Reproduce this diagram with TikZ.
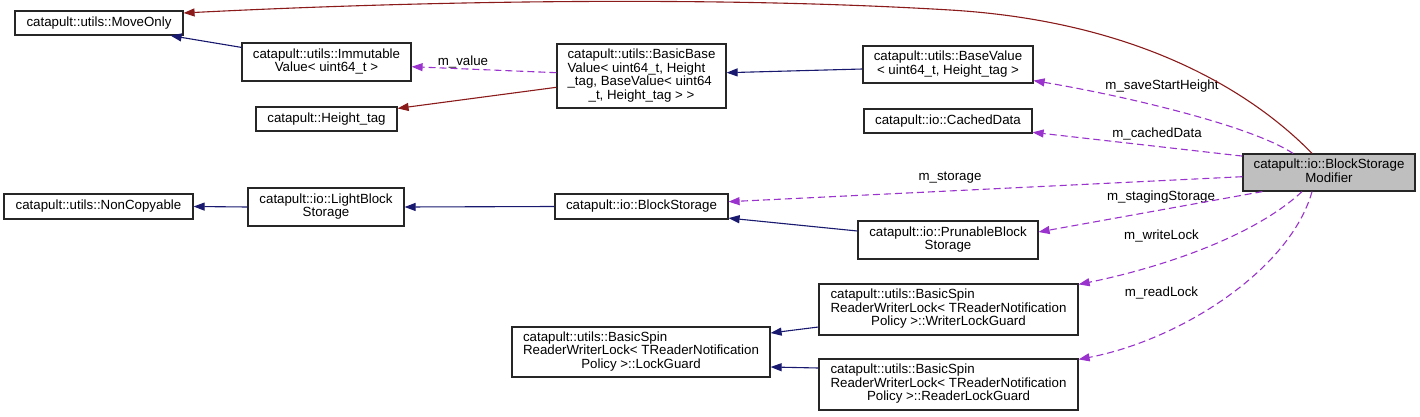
\documentclass[tikz,border=0pt]{standalone}
\usepackage{fontspec}
\setmainfont{Liberation Sans}
\usepackage{tikz}
\usetikzlibrary{arrows.meta}
\definecolor{inhblue}{HTML}{191970}
\definecolor{tmplred}{HTML}{8B1A1A}
\definecolor{usepurple}{HTML}{9A32CD}
\newcommand{\lines}[1]{\begin{tabular}{@{}l@{}}#1\end{tabular}}
\newcommand{\lastline}[1]{\multicolumn{1}{@{}c@{}}{#1}}
\tikzset{
  cls/.style={draw=black!85, line width=1.2pt, inner sep=0pt, minimum height=25pt,
    font=\fontsize{13.3}{13.3}\selectfont},
  lbl/.style={inner sep=0.5pt, font=\fontsize{13.3}{13.3}\selectfont},
  inh/.style={draw=inhblue, line width=1.1pt, -{Triangle[length=11pt,width=8pt]}},
  tmpl/.style={draw=tmplred, line width=1.1pt, -{Triangle[length=11pt,width=8pt]}},
  uses/.style={draw=usepurple, line width=1.1pt, dash pattern=on 7pt off 4pt,
    -{Triangle[length=11pt,width=8pt]}}
}
\begin{document}
\begin{tikzpicture}[x=1pt,y=-1pt]
  \useasboundingbox (0,0) rectangle (1420,417);
  % classes
  \node[cls, fill=black!25, minimum width=172pt, minimum height=37pt] (mod) at (1329,172.5)
    {\lines{catapult::io::BlockStorage\\\lastline{Modifier}}};
  \node[cls, minimum width=168pt, minimum height=24pt] (moveonly) at (99,23) {catapult::utils::MoveOnly};
  \node[cls, minimum width=169pt, minimum height=38pt] (immut) at (326.5,62)
    {\lines{catapult::utils::Immutable\\\lastline{Value< uint64\_t >}}};
  \node[cls, minimum width=141pt, minimum height=24pt] (heighttag) at (326.5,119) {catapult::Height\_tag};
  \node[cls, minimum width=169pt, minimum height=64pt] (basicbase) at (641.5,76)
    {\lines{catapult::utils::BasicBase\\Value< uint64\_t, Height\\\_tag, BaseValue< uint64\\\lastline{\_t, Height\_tag > >}}};
  \node[cls, minimum width=170pt, minimum height=37pt] (basevalue) at (948,64.5)
    {\lines{catapult::utils::BaseValue\\\lastline{< uint64\_t, Height\_tag >}}};
  \node[cls, minimum width=168pt, minimum height=24pt] (cached) at (948,121) {catapult::io::CachedData};
  \node[cls, minimum width=189pt] (noncopy) at (98.5,206.5) {catapult::utils::NonCopyable};
  \node[cls, minimum width=156pt, minimum height=38pt] (lightblock) at (326,207)
    {\lines{catapult::io::LightBlock\\\lastline{Storage}}};
  \node[cls, minimum width=173pt] (blockstorage) at (641.5,206.5) {catapult::io::BlockStorage};
  \node[cls, minimum width=180pt, minimum height=38pt] (prunable) at (948,240)
    {\lines{catapult::io::PrunableBlock\\\lastline{Storage}}};
  \node[cls, minimum width=258pt, minimum height=50pt] (lockguard) at (641,352)
    {\lines{catapult::utils::BasicSpin\\ReaderWriterLock< TReaderNotification\\\lastline{Policy >::LockGuard}}};
  \node[cls, minimum width=259pt, minimum height=51pt] (writer) at (948.5,309.5)
    {\lines{catapult::utils::BasicSpin\\ReaderWriterLock< TReaderNotification\\\lastline{Policy >::WriterLockGuard}}};
  \node[cls, minimum width=259pt, minimum height=51pt] (reader) at (948.5,384.5)
    {\lines{catapult::utils::BasicSpin\\ReaderWriterLock< TReaderNotification\\\lastline{Policy >::ReaderLockGuard}}};
  % edge labels
  \node[lbl] (lvalue) at (463,62) {m\_value};
  \node[lbl] (lsave) at (1162,86) {m\_saveStartHeight};
  \node[lbl] (lcached) at (1157,134) {m\_cachedData};
  \node[lbl] (lstorage) at (950,178) {m\_storage};
  \node[lbl] (lstaging) at (1161,197.5) {m\_stagingStorage};
  \node[lbl] (lwrite) at (1161.5,236.5) {m\_writeLock};
  \node[lbl] (lread) at (1161.5,293.5) {m\_readLock};
  % inheritance
  \draw[tmpl] ([xshift=-17pt]mod.north) .. controls (1260,100) and (1150,22) .. (950,10)
    .. controls (700,-5) and (400,2) .. ([yshift=10pt]moveonly.east);
  \draw[inh] ([yshift=-5pt]immut.north west) -- ([xshift=-13pt]moveonly.south east);
  \draw[tmpl] ([yshift=-11.3pt]basicbase.west) -- ([yshift=-2pt]heighttag.north east);
  \draw[inh] ([yshift=-4.5pt]basevalue.west) -- ([yshift=3.3pt]basicbase.east);
  \draw[inh] (blockstorage.west) -- (lightblock.east);
  \draw[inh] (lightblock.west) -- (noncopy.east);
  \draw[inh] ([yshift=9pt]prunable.west) -- ([yshift=1.5pt]blockstorage.south east);
  \draw[inh] ([yshift=-17.5pt]writer.west) -- ([yshift=19pt]lockguard.east);
  \draw[inh] ([yshift=16.5pt]reader.west) -- ([yshift=-15pt]lockguard.east);
  % members
  \draw[uses] ([yshift=3.3pt]basicbase.west) -- ([yshift=-4.7pt]immut.east);
  \draw[uses] ([xshift=-36pt]mod.north) .. controls (1250,125) and (1120,95) .. ([yshift=3pt]basevalue.south east);
  \draw[uses] ([yshift=-2.7pt]mod.north west) -- ([yshift=1.3pt]cached.south east);
  \draw[uses] ([yshift=-4.2pt]mod.west) -- ([yshift=4.8pt]blockstorage.east);
  \draw[uses] ([xshift=20pt]mod.south west) -- ([yshift=8pt]prunable.east);
  \draw[uses] ([xshift=-27pt]mod.south) .. controls (1250,240) and (1150,270) .. ([yshift=-1pt]writer.north east);
  \draw[uses] ([xshift=-17pt]mod.south) .. controls (1290,270) and (1180,340) .. ([yshift=-1pt]reader.north east);
\end{tikzpicture}
\end{document}
